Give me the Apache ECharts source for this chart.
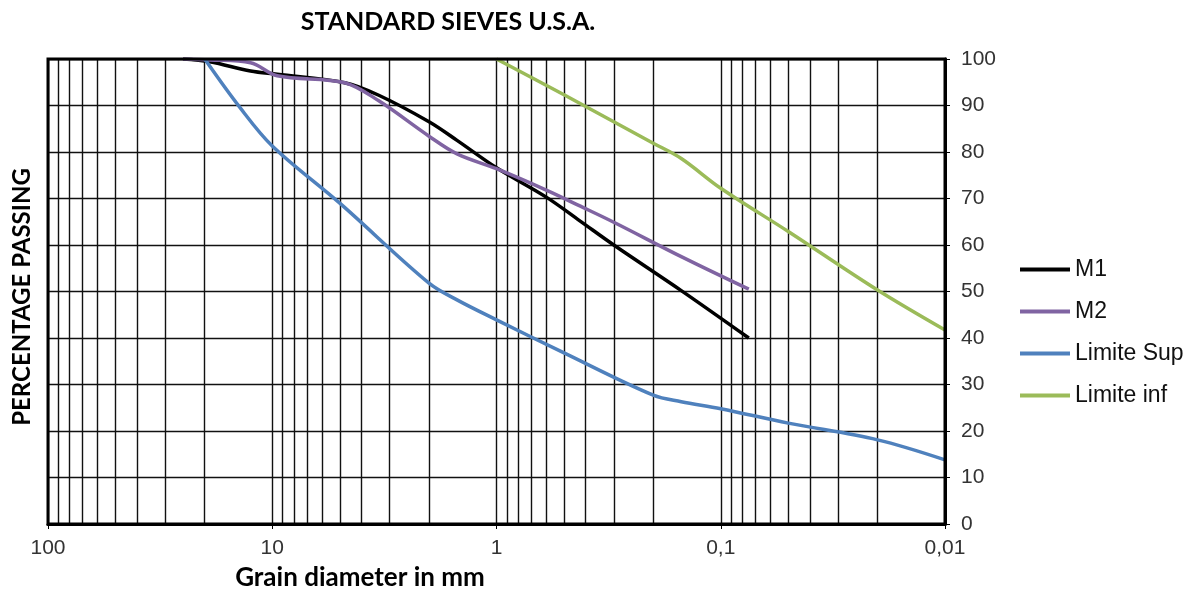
<!DOCTYPE html>
<html>
<head>
<meta charset="utf-8">
<script src="https://cdn.jsdelivr.net/npm/echarts@6/dist/echarts.min.js"></script>
<style>
html,body{margin:0;padding:0;background:#fff;}
#chart{width:1189px;height:590px;}
</style>
</head>
<body>
<div id="chart"></div>
<script>
// ---- data ----
const sievesM = [25, 19, 12.5, 9.5, 4.75, 3.35, 2, 1.5, 1, 0.6, 0.425, 0.3, 0.15, 0.075];
const m1Values = [100, 99.4, 97.4, 96.7, 94.9, 92.2, 86.5, 82.5, 76.6, 70.3, 65.2, 60.0, 50.2, 40.0];
const m2Values = [100, 99.8, 99.2, 96.4, 94.9, 91.0, 83.4, 79.6, 76.4, 71.8, 68.4, 64.9, 57.5, 50.5];

const sievesSup = [20, 14, 10, 5, 2, 1.5, 1, 0.5, 0.2, 0.15, 0.1, 0.05, 0.02, 0.01];
const supValues = [100, 89.7, 81.3, 69.0, 51.8, 48.2, 43.9, 36.8, 27.7, 26.3, 24.8, 21.7, 18.1, 13.8];

const sievesInf = [1, 0.5, 0.2, 0.15, 0.1, 0.05, 0.02, 0.01];
const infValues = [100, 92.3, 81.9, 78.6, 72.2, 62.9, 50.3, 41.7];

const seriesNames = ['M1', 'M2', 'Limite Sup', 'Limite inf'];
const seriesColors = ['#000000', '#8064A2', '#4F81BD', '#9BBB59'];

// log-paper minor grid lines (mm)
const minorGrid = [90, 80, 70, 60, 50, 40, 30, 20,
                   9, 8, 7, 6, 5, 4, 3, 2,
                   0.9, 0.8, 0.7, 0.6, 0.5, 0.4, 0.3, 0.2,
                   0.09, 0.08, 0.07, 0.06, 0.05, 0.04, 0.03, 0.02];

function pairs(xs, ys) { return xs.map((x, i) => [x, ys[i]]); }

const chart = echarts.init(document.getElementById('chart'), null, {renderer: 'canvas'});
const gridLineColor = '#111';
const gridLineWidth = 1.4;
const labelFont = 'Liberation Sans, Arial, sans-serif';
const boldFont = 'Lato, Calibri, sans-serif';

const lineSeries = [
  pairs(sievesM, m1Values),
  pairs(sievesM, m2Values),
  pairs(sievesSup, supValues),
  pairs(sievesInf, infValues)
].map((d, i) => ({
  name: seriesNames[i],
  type: 'line',
  data: d,
  smooth: 0.35,
  showSymbol: false,
  symbol: 'none',
  z: 5,
  lineStyle: {color: seriesColors[i], width: 3.5},
  itemStyle: {color: seriesColors[i]}
}));

const option = {
  animation: false,
  backgroundColor: '#fff',
  grid: {left: 48, top: 59, width: 897, height: 465, show: true, borderColor: '#000', borderWidth: 3, backgroundColor: 'transparent', z: 10},
  xAxis: {
    type: 'log', logBase: 10, min: 0.01, max: 100, inverse: true,
    splitNumber: 4,
    axisLine: {show: true, lineStyle: {color: '#000', width: 3}},
    axisTick: {show: true, inside: false, length: 5, lineStyle: {color: '#000', width: 1}},
    axisLabel: {
      margin: 14, color: '#333', fontSize: 21, fontFamily: labelFont,
      formatter: v => String(v).replace('.', ',')
    },
    splitLine: {show: true, lineStyle: {color: gridLineColor, width: gridLineWidth}},
    minorTick: {show: false}
  },
  yAxis: {
    type: 'value', min: 0, max: 100, interval: 10, position: 'right',
    axisLine: {show: true, lineStyle: {color: '#000', width: 3}},
    axisTick: {show: true, inside: false, length: 5, lineStyle: {color: '#000', width: 1}},
    axisLabel: {margin: 16, color: '#333', fontSize: 21, fontFamily: labelFont},
    splitLine: {show: true, lineStyle: {color: gridLineColor, width: gridLineWidth}}
  },
  legend: {
    data: seriesNames,
    orient: 'vertical',
    left: 1015, top: 253,
    itemWidth: 50, itemHeight: 4, itemGap: 19,
    icon: 'rect',
    textStyle: {fontSize: 23, fontFamily: labelFont, color: '#111'}
  },
  graphic: [
    {type: 'text', x: 448, y: 22, style: {text: 'STANDARD SIEVES U.S.A.', font: 'bold 25px ' + boldFont, fill: '#000', textAlign: 'center', textVerticalAlign: 'middle'}},
    {type: 'text', x: 22, y: 297, rotation: Math.PI / 2, style: {text: 'PERCENTAGE PASSING', font: 'bold 24px ' + boldFont, fill: '#000', textAlign: 'center', textVerticalAlign: 'middle'}},
    {type: 'text', x: 360, y: 578, style: {text: 'Grain diameter in mm', font: 'bold 26px ' + boldFont, fill: '#000', textAlign: 'center', textVerticalAlign: 'middle'}}
  ],
  series: [
    {
      name: 'minor-grid', type: 'line', data: [], z: 1, silent: true,
      markLine: {
        silent: true, symbol: ['none', 'none'], animation: false,
        label: {show: false},
        lineStyle: {color: gridLineColor, width: gridLineWidth, type: 'solid'},
        emphasis: {disabled: true},
        data: minorGrid.map(v => ({xAxis: v}))
      }
    }
  ].concat(lineSeries)
};
chart.setOption(option);
</script>
</body>
</html>
